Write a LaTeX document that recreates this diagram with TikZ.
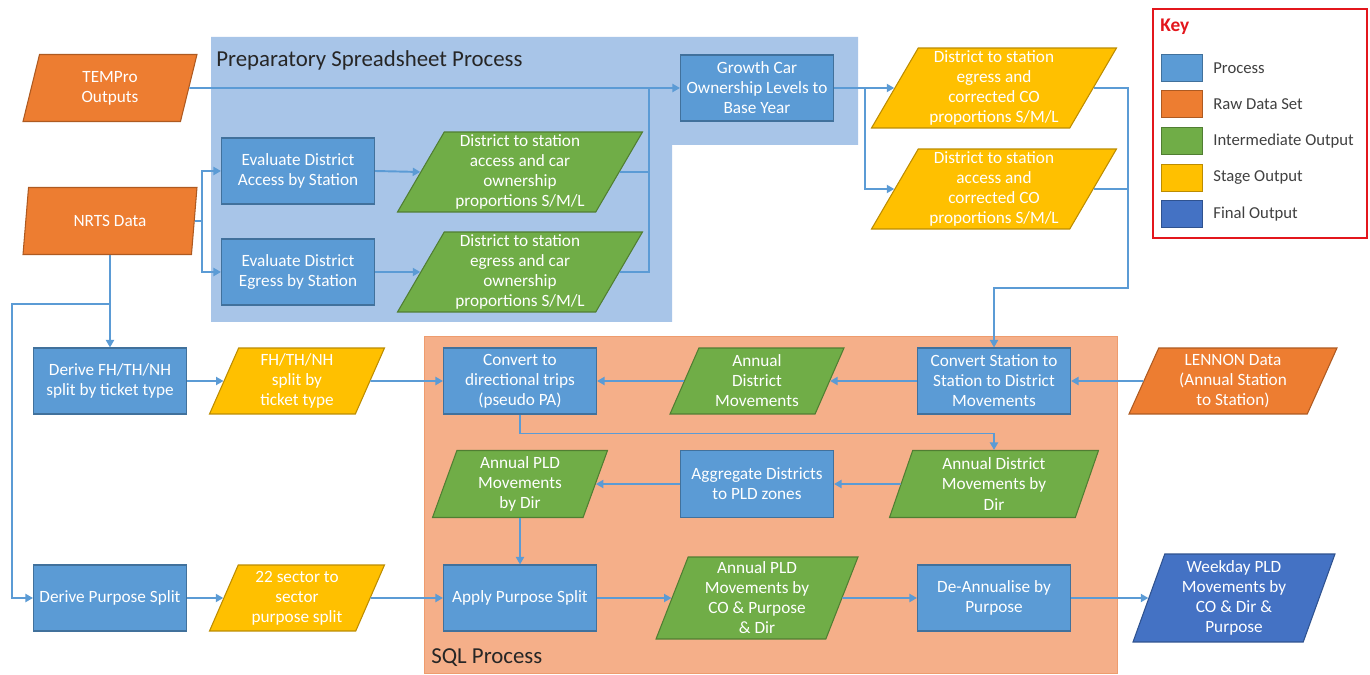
\documentclass[tikz,border=0pt]{standalone}
\usepackage{fontspec}
\setmainfont{Carlito}
\usetikzlibrary{arrows.meta}
\usetikzlibrary{shapes.geometric}

\definecolor{procblue}{HTML}{5B9BD5}
\definecolor{procedge}{HTML}{41719C}
\definecolor{rawfill}{HTML}{ED7D31}
\definecolor{rawedge}{HTML}{AE5A21}
\definecolor{midfill}{HTML}{70AD47}
\definecolor{midedge}{HTML}{507E32}
\definecolor{stagefill}{HTML}{FFC000}
\definecolor{stageedge}{HTML}{BC8C00}
\definecolor{finalfill}{HTML}{4472C4}
\definecolor{finaledge}{HTML}{2F528F}
\definecolor{linkblue}{HTML}{5B9BD5}
\definecolor{prepfill}{HTML}{A8C5E8}
\definecolor{sqlfill}{HTML}{F5AF89}
\definecolor{sqledge}{HTML}{EE9C6E}
\definecolor{keyred}{HTML}{E3161C}
\definecolor{textdark}{HTML}{262626}
\definecolor{keytext}{HTML}{404040}

\begin{document}
\begin{tikzpicture}[x=0.02cm, y=-0.02cm,
    txt/.style={text=white, font=\fontsize{9.8}{11.4}\selectfont, align=center, inner sep=0pt},
    process/.style={txt, rectangle, draw=procedge, fill=procblue, line width=0.6pt,
        minimum width=3.06cm, minimum height=1.32cm},
    data/.style={txt, trapezium, trapezium stretches body, line width=0.6pt},
    lean/.style 2 args={trapezium left angle=#1, trapezium right angle=#2},
    raw/.style={data, draw=rawedge, fill=rawfill},
    mid/.style={data, draw=midedge, fill=midfill},
    stage/.style={data, draw=stageedge, fill=stagefill},
    final/.style={data, draw=finaledge, fill=finalfill},
    link/.style={draw=linkblue, line width=1.1pt},
    conn/.style={link, -{Triangle[length=1.5mm, width=1.6mm]}},
    swatch/.style={minimum width=0.82cm, minimum height=0.54cm, inner sep=0pt, line width=0.5pt},
    keylabel/.style={anchor=west, text=keytext, font=\fontsize{9.5}{11}\selectfont, inner sep=0pt},
    region/.style={anchor=west, text=textdark, font=\fontsize{13}{15}\selectfont, inner sep=0pt}]

    \fill[white] (0,0) rectangle (1370,675);
    \useasboundingbox (0,0) rectangle (1370,675);

    % process regions
    \fill[prepfill] (211,37) -- (858,37) -- (858,145) -- (672,145) -- (672,322) -- (211,322) -- cycle;
    \node[region] (preptitle) at (216,60) {Preparatory Spreadsheet Process};
    \draw[sqledge, fill=sqlfill, line width=0.5pt] (424,336) rectangle (1117,673);
    \node[region] (sqltitle) at (431,658) {SQL Process};

    % inputs
    \node[raw, lean={64}{116}, minimum width=3.48cm, minimum height=1.34cm] (tempro) at (110,88) {TEMPro\\Outputs};
    \node[raw, lean={64}{116}, minimum width=3.48cm, minimum height=1.34cm] (nrts) at (110,221) {NRTS Data};
    \node[raw, lean={61}{119}, minimum width=4.16cm, minimum height=1.32cm] (lennon) at (1233,381) {LENNON Data\\(Annual Station\\to Station)};

    % preparatory spreadsheet
    \node[process] (evalA) at (298,171) {Evaluate District\\Access by Station};
    \node[process] (evalB) at (298,272) {Evaluate District\\Egress by Station};
    \node[mid, lean={58}{122}, minimum width=4.9cm, minimum height=1.6cm] (accessCO) at (520,172) {District to station\\access and car\\ownership\\proportions S/M/L};
    \node[mid, lean={58}{122}, minimum width=4.9cm, minimum height=1.6cm] (egressCO) at (520,272) {District to station\\egress and car\\ownership\\proportions S/M/L};
    \node[process] (growth) at (757,88) {Growth Car\\Ownership Levels to\\Base Year};
    \node[stage, lean={58}{122}, minimum width=4.9cm, minimum height=1.6cm] (stageE) at (994,88) {District to station\\egress and\\corrected CO\\proportions S/M/L};
    \node[stage, lean={58}{122}, minimum width=4.9cm, minimum height=1.6cm] (stageA) at (994,189) {District to station\\access and\\corrected CO\\proportions S/M/L};

    % splits
    \node[process] (deriveFH) at (110,381) {Derive FH/TH/NH\\split by ticket type};
    \node[stage, lean={62}{118}, minimum width=3.5cm, minimum height=1.32cm] (splitFH) at (297,381) {FH/TH/NH\\split by\\ticket type};
    \node[process] (derivePS) at (110,598) {Derive Purpose Split};
    \node[stage, lean={62}{118}, minimum width=3.5cm, minimum height=1.32cm] (sector) at (297,598) {22 sector to\\sector\\purpose split};

    % sql process
    \node[process] (convDir) at (520,381) {Convert to\\directional trips\\(pseudo PA)};
    \node[mid, lean={61}{119}, minimum width=3.48cm, minimum height=1.32cm] (annualDM) at (757,381) {Annual\\District\\Movements};
    \node[process] (convSt) at (994,381) {Convert Station to\\Station to District\\Movements};
    \node[mid, lean={66}{114}, minimum width=3.5cm, minimum height=1.34cm] (pldDir) at (520,484) {Annual PLD\\Movements\\by Dir};
    \node[process, minimum height=1.34cm] (aggr) at (757,484) {Aggregate Districts\\to PLD zones};
    \node[mid, lean={66}{114}, minimum width=4.18cm, minimum height=1.34cm] (annualDMDir) at (994,484) {Annual District\\Movements by\\Dir};
    \node[process] (apply) at (520,598) {Apply Purpose Split};
    \node[mid, lean={66}{114}, minimum width=4.04cm, minimum height=1.64cm] (pldCO) at (757,598) {Annual PLD\\Movements by\\CO \& Purpose\\\& Dir};
    \node[process] (deann) at (994,598) {De-Annualise by\\Purpose};
    \node[final, lean={67}{113}, minimum width=4.04cm, minimum height=1.76cm] (weekday) at (1234,598) {Weekday PLD\\Movements by\\CO \& Dir \&\\Purpose};

    % connectors, preparatory part
    \coordinate (join) at (649,88);
    \coordinate (nsplit) at (202,221);
    \coordinate (gsplit) at (865,88);
    \coordinate (ybend) at (1128,288);
    \draw[conn] (tempro.east) -- (growth.west);
    \draw[link] (accessCO.east) -| (join);
    \draw[link] (egressCO.east) -| (join);
    \draw[link] (nrts.east) -- (nsplit);
    \draw[conn] (nsplit) |- (evalA.west);
    \draw[conn] (nsplit) |- (evalB.west);
    \draw[conn] (evalA.east) -- (accessCO.west);
    \draw[conn] (evalB.east) -- (egressCO.west);
    \draw[link] (growth.east) -- (gsplit);
    \draw[conn] (gsplit) -- (stageE.west);
    \draw[conn] (gsplit) |- (stageA.west);
    \draw[conn] (stageE.east) -| (ybend) -| (convSt.north);
    \draw[link] (stageA.east) -- (stageA.east -| ybend);

    % connectors, splits
    \coordinate (nbranch) at (110,304);
    \coordinate (nleft) at (12,304);
    \draw[conn] (nrts.south) -- (deriveFH.north);
    \draw[conn] (nbranch) -- (nleft) |- (derivePS.west);
    \draw[conn] (deriveFH.east) -- (splitFH.west);
    \draw[conn] (splitFH.east) -- (convDir.west);
    \draw[conn] (derivePS.east) -- (sector.west);
    \draw[conn] (sector.east) -- (apply.west);

    % connectors, sql part
    \draw[conn] (lennon.west) -- (convSt.east);
    \draw[conn] (convSt.west) -- (annualDM.east);
    \draw[conn] (annualDM.west) -- (convDir.east);
    \draw[conn] (convDir.south) -- ++(0,19) -| (annualDMDir.north);
    \draw[conn] (annualDMDir.west) -- (aggr.east);
    \draw[conn] (aggr.west) -- (pldDir.east);
    \draw[conn] (pldDir.south) -- (apply.north);
    \draw[conn] (apply.east) -- (pldCO.west);
    \draw[conn] (pldCO.east) -- (deann.west);
    \draw[conn] (deann.east) -- (weekday.west);

    % key
    \draw[keyred, line width=1.2pt] (1153,9) rectangle (1367,238);
    \node[anchor=west, text=keyred, font=\fontsize{11}{13}\selectfont\bfseries, inner sep=0pt] (keytitle) at (1160,27) {Key};
    \node[swatch, rectangle, draw=procedge, fill=procblue] (kproc) at (1182,68) {};
    \node[swatch, trapezium, trapezium stretches body, lean={66}{114}, draw=rawedge, fill=rawfill] (kraw) at (1182,104) {};
    \node[swatch, trapezium, trapezium stretches body, lean={66}{114}, draw=midedge, fill=midfill] (kmid) at (1182,141) {};
    \node[swatch, trapezium, trapezium stretches body, lean={66}{114}, draw=stageedge, fill=stagefill] (kstage) at (1182,178) {};
    \node[swatch, trapezium, trapezium stretches body, lean={66}{114}, draw=finaledge, fill=finalfill] (kfinal) at (1182,214) {};
    \node[keylabel] (lproc) at (1213,68) {Process};
    \node[keylabel] (lraw) at (1213,104) {Raw Data Set};
    \node[keylabel] (lmid) at (1213,141) {Intermediate Output};
    \node[keylabel] (lstage) at (1213,178) {Stage Output};
    \node[keylabel] (lfinal) at (1213,214) {Final Output};
\end{tikzpicture}
\end{document}
